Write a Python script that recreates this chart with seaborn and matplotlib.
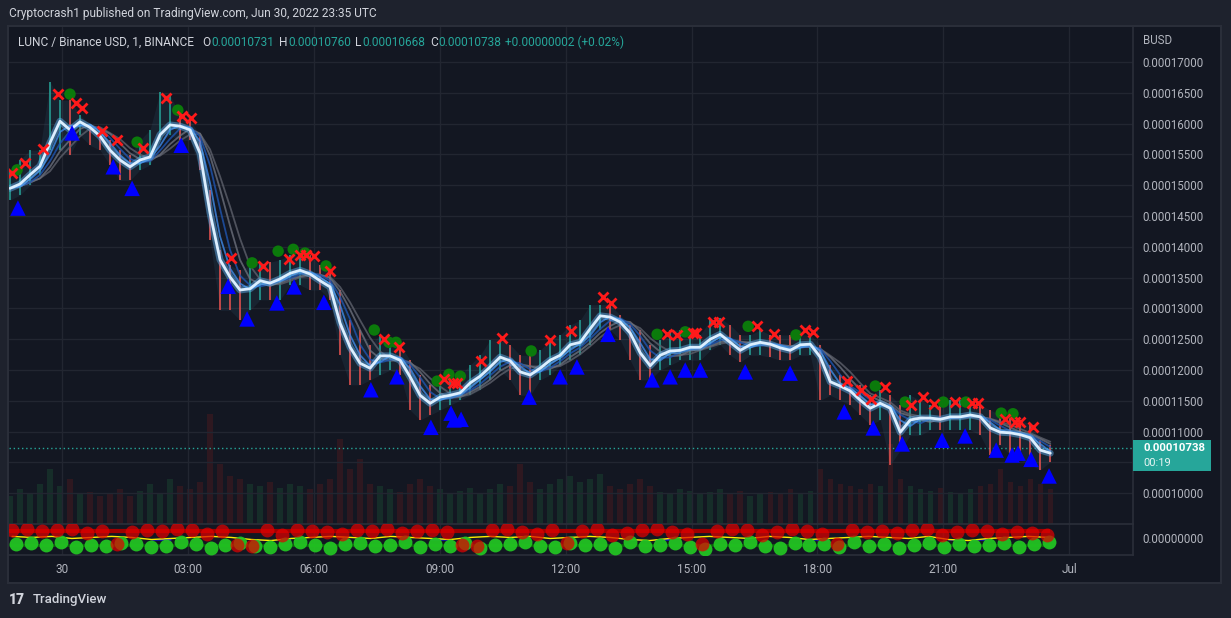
import numpy as np
import pandas as pd
import matplotlib.pyplot as plt
from matplotlib.patches import Rectangle
import seaborn as sns

# LUNC / BUSD, 1 minute, Jun 29 22:46 -> Jun 30 23:35 UTC
# time = hours from Jun 30 00:00, prices in 1e-5 BUSD

# fast average (ribbon core), one sample every ~14 min
ma = [14.95, 15.02, 15.17, 15.31, 15.69, 16.04, 15.90, 16.03, 15.94, 15.80,
      15.57, 15.41, 15.30, 15.41, 15.46, 15.82, 15.98, 15.96, 15.90, 15.52,
      14.55, 13.79, 13.51, 13.30, 13.32, 13.45, 13.41, 13.48, 13.57, 13.62,
      13.56, 13.45, 13.35, 12.76, 12.37, 12.11, 12.03, 12.23, 12.23, 12.16,
      11.89, 11.59, 11.46, 11.56, 11.59, 11.63, 11.79, 11.90, 12.05, 12.21,
      12.15, 11.97, 11.92, 12.03, 12.16, 12.24, 12.41, 12.45, 12.67, 12.88,
      12.86, 12.78, 12.60, 12.28, 12.07, 12.24, 12.31, 12.32, 12.37, 12.37,
      12.50, 12.58, 12.45, 12.32, 12.41, 12.45, 12.42, 12.36, 12.32, 12.41,
      12.42, 12.21, 11.81, 11.74, 11.66, 11.51, 11.38, 11.46, 11.38, 10.99,
      11.19, 11.22, 11.22, 11.20, 11.24, 11.24, 11.27, 11.24, 11.06, 10.99,
      10.98, 10.95, 10.90, 10.70, 10.65]
hi = [15.21, 15.41, 15.57, 15.57, 16.68, 16.38, 16.38, 16.14, 15.98, 15.90,
      15.73, 15.57, 15.49, 15.73, 15.90, 16.51, 16.46, 16.14, 16.06, 15.81,
      14.92, 13.95, 13.70, 13.62, 13.70, 13.75, 13.75, 13.79, 13.87, 13.87,
      13.87, 13.70, 13.62, 13.30, 12.81, 12.65, 12.41, 12.57, 12.49, 12.41,
      12.16, 11.92, 11.76, 11.87, 11.84, 11.92, 12.08, 12.24, 12.49, 12.49,
      12.41, 12.24, 12.24, 12.32, 12.49, 12.57, 12.73, 12.81, 13.06, 13.06,
      13.06, 12.89, 12.73, 12.65, 12.41, 12.49, 12.65, 12.65, 12.65, 12.57,
      12.81, 12.84, 12.73, 12.57, 12.57, 12.65, 12.57, 12.57, 12.57, 12.57,
      12.57, 12.41, 12.08, 11.92, 11.84, 11.76, 11.59, 11.68, 11.59, 11.43,
      11.59, 11.51, 11.43, 11.43, 11.51, 11.51, 11.51, 11.43, 11.35, 11.27,
      11.27, 11.19, 11.11, 10.86, 10.78]
lo = [14.76, 14.84, 15.00, 15.17, 15.57, 15.57, 15.49, 15.81, 15.65, 15.57,
      15.33, 15.08, 15.08, 15.25, 15.33, 15.73, 15.81, 15.73, 15.73, 15.25,
      14.11, 12.97, 12.97, 12.81, 12.97, 13.14, 13.14, 13.14, 13.38, 13.38,
      13.30, 13.30, 13.14, 12.24, 11.76, 11.76, 11.84, 11.92, 12.00, 11.92,
      11.35, 11.19, 11.27, 11.35, 11.43, 11.51, 11.59, 11.68, 11.84, 12.00,
      11.84, 11.59, 11.59, 11.84, 11.92, 12.08, 12.16, 12.24, 12.41, 12.65,
      12.65, 12.49, 12.16, 11.84, 11.84, 12.00, 12.08, 12.16, 12.16, 12.16,
      12.32, 12.41, 12.24, 12.13, 12.24, 12.24, 12.21, 12.16, 12.16, 12.24,
      12.24, 11.51, 11.59, 11.51, 11.43, 11.27, 11.11, 11.19, 10.46, 10.70,
      10.94, 10.94, 11.03, 11.03, 11.03, 11.03, 11.03, 10.94, 10.62, 10.78,
      10.62, 10.54, 10.46, 10.38, 10.51]
vol = [28, 35, 30, 40, 55, 38, 45, 30, 32, 28,
       30, 35, 28, 33, 40, 30, 45, 38, 35, 42,
       110, 60, 48, 45, 40, 38, 42, 36, 40, 38,
       35, 40, 45, 85, 55, 65, 40, 38, 35, 32,
       40, 45, 38, 35, 30, 33, 36, 30, 35, 40,
       38, 60, 42, 35, 40, 45, 48, 42, 45, 50,
       38, 35, 40, 45, 38, 32, 30, 35, 33, 30,
       32, 35, 30, 33, 28, 30, 32, 30, 35, 30,
       33, 55, 45, 40, 38, 35, 40, 38, 80, 45,
       38, 35, 33, 36, 32, 30, 35, 38, 40, 55,
       42, 38, 45, 40, 35]

# signals
sell_t = [-1.19, -0.88, -0.45, -0.10, 0.33, 0.48, 0.95, 1.31, 1.93, 2.48, 2.86, 3.07,
          4.03, 4.79, 5.41, 5.67, 5.82, 6.01, 6.39, 7.67, 8.03, 9.10, 9.32, 9.41,
          9.99, 10.49, 11.63, 12.13, 12.89, 13.08, 14.42, 14.66, 15.04, 15.11, 15.51,
          15.66, 16.56, 16.97, 17.71, 17.90, 18.71, 19.04, 19.28, 19.61, 20.23, 20.52,
          20.78, 21.28, 21.69, 21.83, 22.47, 22.71, 22.83, 23.14]
sell_p = [15.20, 15.36, 15.59, 16.48, 16.33, 16.25, 15.88, 15.73, 15.60, 16.42, 16.12, 16.09,
          13.82, 13.69, 13.80, 13.87, 13.87, 13.85, 13.61, 12.50, 12.37, 11.85, 11.79, 11.79,
          12.15, 12.52, 12.49, 12.63, 13.18, 13.09, 12.58, 12.57, 12.60, 12.60, 12.78,
          12.78, 12.71, 12.58, 12.65, 12.62, 11.82, 11.68, 11.53, 11.72, 11.43, 11.56,
          11.45, 11.48, 11.46, 11.46, 11.20, 11.16, 11.16, 11.07]
dot_t = [-1.07, 0.19, 1.79, 2.76, 4.53, 5.15, 5.51, 5.79, 6.29, 7.44, 7.79, 7.96, 8.94,
         9.22, 9.49, 11.18, 14.18, 14.85, 16.35, 17.49, 19.38, 20.09, 21.00, 21.54,
         22.38, 22.66]
dot_p = [15.25, 16.48, 15.70, 16.22, 13.74, 13.93, 13.96, 13.90, 13.69, 12.65, 12.45, 12.45,
         11.82, 11.93, 11.90, 12.31, 12.58, 12.62, 12.71, 12.57, 11.74, 11.48, 11.48, 11.48,
         11.30, 11.29]
buy_t = [-1.05, 0.24, 1.22, 1.67, 2.84, 3.96, 4.41, 5.12, 5.53, 6.24, 7.36, 7.98, 8.79,
         9.27, 9.34, 9.51, 11.13, 11.87, 12.27, 13.01, 14.06, 14.49, 14.85, 15.21, 16.28,
         17.35, 18.64, 19.33, 20.02, 20.97, 21.52, 22.26, 22.64, 22.78, 23.09, 23.52]
buy_p = [14.63, 15.85, 15.30, 14.95, 15.65, 13.36, 12.83, 13.09, 13.35, 13.10, 11.68, 11.89,
         11.07, 11.30, 11.19, 11.20, 11.56, 11.89, 12.05, 12.58, 11.84, 11.89, 12.00, 12.00,
         11.97, 11.95, 11.32, 11.06, 10.80, 10.86, 10.93, 10.70, 10.62, 10.65, 10.55, 10.28]

# lower oscillator pane
red_lvl = [8, 9, 7, 8, 9, 5, 7, -5, 6, 8, 7, 9, 8, 4, 7, -6, -7, 8, 3, 8,
           7, 6, 4, 8, 7, 9, 5, 7, 8, 6, -6, -7, 8, 9, 6, 4, 8, -4, 7, 9,
           3, 5, 8, 9, 6, 4, -5, 7, 9, 8, 3, 6, 9, 7, 4, -5, 8, 6, 7, 5,
           8, 9, 3, 6, 8, 7, 4, 6, 5, 3]
grn_lvl = [-5, -4, -6, -3, -8, -6, -7, -4, -5, -8, -7, -3, -5, -9, -6, -4, -7, -8, -5, -3,
           -6, -9, -5, -4, -7, -6, -3, -8, -5, -7, -4, -9, -6, -5, -3, -7, -8, -4, -6, -5,
           -9, -3, -7, -6, -4, -8, -10, -5, -6, -3, -7, -9, -4, -6, -5, -8, -3, -7, -5, -9,
           -6, -4, -8, -5, -7, -6, -4, -8, -5, -3]
sig = [2, 1, 2, 0, 1, 2, 1, -1, 0, 1, 2, 1, -1, -2, 0, 1, 2, 1, 0, 2, 1, 0, -1, 1, 2, 1,
       2, 0, 1, 2, 1, -1, -2, 0, 1, 2, 1, 0, 2, 1, -1, 0, 1, 2, 1, 0, 2, -1, -2, 0, 1, 2, 1]

hour_ticks = [0, 3, 6, 9, 12, 15, 18, 21, 24]
hour_labels = ["30", "03:00", "06:00", "09:00", "12:00", "15:00", "18:00", "21:00", "Jul"]
price_ticks = [10.0, 10.5, 11.0, 11.5, 12.0, 12.5, 13.0, 13.5, 14.0, 14.5, 15.0, 15.5, 16.0, 16.5, 17.0]
last_price = 10.738

sns.set_theme(style="dark")
plt.rcParams["font.family"] = ["Roboto", "DejaVu Sans"]

W, H = 1231, 618
BG_OUT, BG_IN, LINE, GRID = "#1e222d", "#131722", "#2a2e39", "#222631"
TXT, TEAL, RED = "#b2b5be", "#26a69a", "#ef5350"
XLIM = (-1.263, 25.52)


def box(x0, y0, x1, y1):
    return [x0 / W, 1 - y1 / H, (x1 - x0) / W, (y1 - y0) / H]


fig = plt.figure(figsize=(W / 100, H / 100), dpi=100, facecolor=BG_OUT)


def ftext(x, y, s, **kw):
    fig.text(x / W, 1 - y / H, s, va="center", **kw)


fig.add_artist(Rectangle((8 / W, 1 - 583 / H), 1213 / W, 557 / H, transform=fig.transFigure,
                         facecolor=BG_IN, edgecolor=LINE, lw=1.5, zorder=-1))

t = np.linspace(-1.24, 23.55, len(ma))
up = np.r_[True, np.diff(ma) >= 0]

# volume underneath the price pane (very faint, as on TradingView)
vax = fig.add_axes(box(9, 27, 1133, 524))
vax.bar(t, vol, width=0.13, color=np.where(up, "#1a4030", "#45191f"), alpha=0.55, lw=0)
vax.set_xlim(XLIM)
vax.set_ylim(0, 497)
vax.axis("off")

ax = fig.add_axes(box(9, 27, 1133, 524))
ax.set_facecolor("none")
ax.set_xlim(XLIM)
ax.set_ylim(9.50, 17.57)

# candles (wick ranges)
ax.fill_between(t, lo, hi, color="#3d6e8c", alpha=0.14, lw=0, zorder=1)
ax.vlines(t, lo, hi, colors=np.where(up, TEAL, RED), lw=1.3, alpha=0.85, zorder=2)

# moving-average ribbon
s = pd.Series(ma)
for w, c in zip([5, 4, 3, 2], ["#5d606b", "#6c707c", "#1f55b0", "#3f8ae8"]):
    ax.plot(t, s.rolling(w, min_periods=1).mean(), color=c, lw=1.3, alpha=0.8, zorder=3)
ax.plot(t, ma, color="#64b5f6", lw=5, alpha=0.45, zorder=4, solid_capstyle="round")
sns.lineplot(x=t, y=ma, color="#dcefff", lw=2, ax=ax, zorder=5)

ax.axhline(last_price, color=TEAL, ls=(0, (1, 2)), lw=1, zorder=1)

sns.scatterplot(x=buy_t, y=buy_p, marker="^", s=125, color="#0000ff", edgecolor="none",
                ax=ax, zorder=6, legend=False)
sns.scatterplot(x=dot_t, y=dot_p, marker="o", s=68, color="#0b7a0b", edgecolor="none",
                ax=ax, zorder=6, legend=False)
ax.plot(sell_t, sell_p, ls="none", marker="x", ms=7, mew=2, color="#ff1a1a", zorder=7)

ax.set_xticks(hour_ticks)
ax.tick_params(axis="x", labelbottom=False, length=0)
ax.yaxis.tick_right()
# the 0.00010500 label sits under the last-price badge, as in TradingView
price_labels = ["" if abs(v - 10.5) < 1e-9 else f"{v * 1e-5:.8f}" for v in price_ticks]
ax.set_yticks(price_ticks, price_labels)
ax.tick_params(axis="y", length=0, pad=7, labelsize=8.3, labelcolor=TXT)
ax.grid(True, color=GRID, lw=1)
ax.set_xlabel("")
ax.set_ylabel("")

# oscillator pane
ind = fig.add_axes(box(9, 524, 1133, 555))
ind.set_facecolor("none")
ind.set_xlim(XLIM)
ind.set_ylim(-16, 14)
t_end = t[-1]
ind.hlines(7, XLIM[0], t_end, color="#a00000", lw=3, zorder=1)
ind.hlines(-6, XLIM[0], t_end, color="#0d5e0d", lw=2, zorder=1)
ts = np.linspace(-1.19, 23.5, len(sig))
sig_a = np.array(sig, dtype=float)
ind.fill_between(ts, sig_a, -2, where=sig_a < 0.5, interpolate=True, color="#1414ff", lw=0, zorder=2)
ind.plot(ts, sig_a, color="#ffee00", lw=1, zorder=3)
ind.scatter(np.linspace(-1.10, 23.52, len(grn_lvl)), grn_lvl, s=100, color="#22c322", alpha=0.95, lw=0, zorder=4)
ind.scatter(np.linspace(-1.19, 23.48, len(red_lvl)), red_lvl, s=100, color="#e00000", alpha=0.72, lw=0, zorder=5)

ind.set_xticks(hour_ticks, hour_labels)
ind.tick_params(axis="x", length=0, pad=6, labelsize=8.5, labelcolor=TXT)
ind.yaxis.tick_right()
ind.set_yticks([0], ["0.00000000"])
ind.tick_params(axis="y", length=0, pad=7, labelsize=8.3, labelcolor=TXT)
ind.grid(True, axis="x", color=GRID, lw=1)

for a in (ax, ind):
    for sp in a.spines.values():
        sp.set_visible(False)
    a.spines["right"].set_visible(True)
    a.spines["right"].set_color(LINE)
for side in ("top", "bottom"):
    ind.spines[side].set_visible(True)
    ind.spines[side].set_color(LINE)

# texts
ftext(9, 14, "Cryptocrash1 published on TradingView.com, Jun 30, 2022 23:35 UTC", color="#d1d4dc", fontsize=8.6)
ftext(18, 42, "LUNC / Binance USD, 1, BINANCE", color="#d1d4dc", fontsize=8.6)
for lx, lab, vx, val in [(202, "O", 211, "0.00010731"), (279, "H", 288, "0.00010760"),
                         (355, "L", 362, "0.00010668"), (430, "C", 438, "0.00010738")]:
    ftext(lx, 42, lab, color="#d1d4dc", fontsize=8.6)
    ftext(vx, 42, val, color=TEAL, fontsize=8.6)
ftext(505, 42, "+0.00000002 (+0.02%)", color=TEAL, fontsize=8.6)
ftext(1143, 40, "BUSD", color=TXT, fontsize=8.3)

fig.add_artist(Rectangle((1133 / W, 1 - 471 / H), 78 / W, 31 / H, transform=fig.transFigure,
                         facecolor=TEAL, edgecolor="none", zorder=3))
ftext(1143, 448, "0.00010738", color="white", fontsize=8.2, fontweight="bold", zorder=4)
ftext(1143, 463, "00:19", color="#e8f5f3", fontsize=8, zorder=4)

ftext(9, 600, "17", color="#d1d4dc", fontsize=10, fontweight="heavy")
ftext(33, 600, "TradingView", color="#d1d4dc", fontsize=9.5, fontweight="medium")

fig.savefig("out.png", dpi=100, facecolor=BG_OUT)
